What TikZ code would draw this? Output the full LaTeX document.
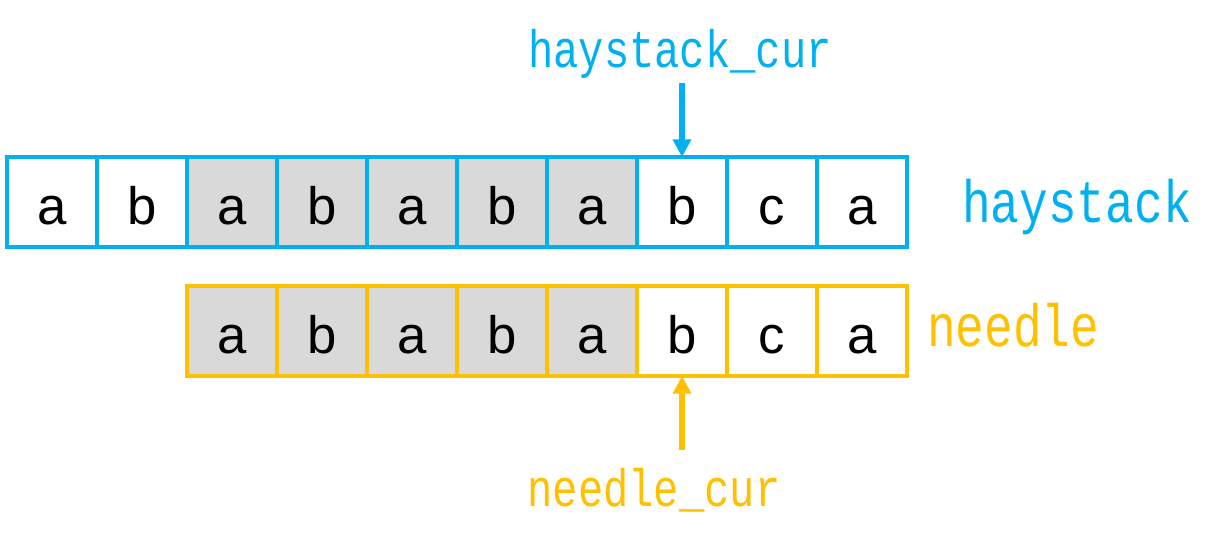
\documentclass[tikz,border=0pt]{standalone}
\usepackage{fontspec}
\setmainfont{Liberation Sans}
\newfontfamily\monofont{Liberation Mono}
\usetikzlibrary{arrows.meta}
\definecolor{hayblue}{RGB}{0,176,240}
\definecolor{needleyellow}{RGB}{255,192,0}
\definecolor{matchgray}{RGB}{217,217,217}
\tikzset{
  cell/.style={draw, line width=2.5pt, minimum width=1.8cm, minimum height=1.8cm,
    inner sep=0pt, outer sep=0pt, text height=0.92cm, text depth=0cm,
    font=\fontsize{30}{36}\selectfont},
  biglabel/.style={font=\monofont\fontsize{34}{40}\selectfont, xscale=0.8, inner sep=0pt},
  smalllabel/.style={font=\monofont\fontsize{30}{36}\selectfont, xscale=0.8, inner sep=0pt},
  pointer/.style={-{Triangle[length=10pt,width=10pt]}, line width=3.4pt}
}

\begin{document}
\begin{tikzpicture}[x=0.02cm,y=-0.02cm]
\useasboundingbox (0,0) rectangle (1232,547);
% draw haystack cells
\foreach \ch/\bg [count=\i from 0] in {a/white,b/white,a/matchgray,b/matchgray,a/matchgray,b/matchgray,a/matchgray,b/white,c/white,a/white}
  \node[cell, draw=hayblue, fill=\bg] (h\i) at ({52+90*\i},202) {\ch};
% draw needle cells
\foreach \ch/\bg [count=\j from 0] in {a/matchgray,b/matchgray,a/matchgray,b/matchgray,a/matchgray,b/white,c/white,a/white}
  \node[cell, draw=needleyellow, fill=\bg] (n\j) at ({232+90*\j},331) {\ch};
% draw row names
\node[biglabel, text=hayblue, anchor=base west] (haylabel) at (962,223) {haystack};
\node[biglabel, text=needleyellow, anchor=base west] (needlelabel) at (927,347) {needle};
% draw cursors
\node[smalllabel, text=hayblue, anchor=base] (hcur) at (680,68) {haystack\_cur};
\coordinate (hcurtail) at (682,83);
\draw[pointer, hayblue] (hcurtail) -- (h7.north);
\node[smalllabel, text=needleyellow, anchor=base] (ncur) at (654,507) {needle\_cur};
\coordinate (ncurtail) at (682,450);
\draw[pointer, needleyellow] (ncurtail) -- (n5.south);
\end{tikzpicture}
\end{document}
